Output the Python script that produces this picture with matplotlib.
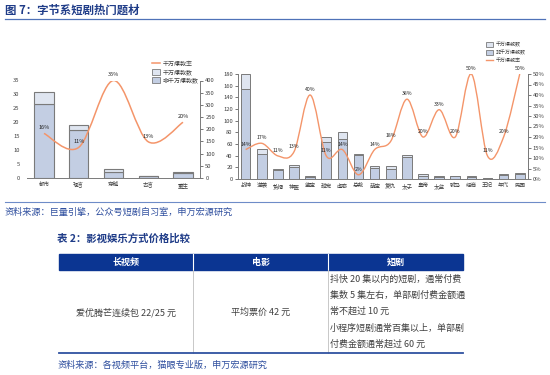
import numpy as np
import matplotlib
matplotlib.use('Agg')
import matplotlib.pyplot as plt
from matplotlib.path import Path
from matplotlib.patches import PathPatch, Patch, Rectangle
from matplotlib.lines import Line2D

plt.rcParams['font.family'] = ['Noto Sans CJK SC', 'DejaVu Sans']

# left chart data
cats1 = ['都市', '现言', '穿越', '古言', '重生']
non_hit1 = [305, 197, 25, 8, 19]
hit1 = [47, 19, 12, 2, 5]
rate1 = [16, 11, 35, 13, 20]

# right chart data
cats2 = ['战神', '逆袭', '赘婿', '神医', '鉴宝', '甜宠', '虐恋', '总裁', '萌宝',
         '复仇', '太子', '皇帝', '太监', '驸马', '经商', '王妃', '年代', '民国']
non_hit2 = [155, 43, 16, 21, 3, 64, 69, 42, 19, 18, 38, 5, 4, 5, 4, 2, 7, 8]
hit2 = [25, 9, 2, 3, 2, 8, 11, 1, 3, 4, 4, 3, 2, 1, 2, 0.5, 1.5, 2]
rate2 = [14, 17, 11, 13, 40, 11, 14, 2, 14, 18, 38, 20, 33, 20, 50, 11, 20, 50]

# table
tab_head = ['长视频', '电影', '短剧']
tab_col1 = '爱优腾芒连续包 22/25 元'
tab_col2 = '平均票价 42 元'
tab_col3 = ['抖快 20 集以内的短剧，通常付费',
            '集数 5 集左右，单部剧付费金额通',
            '常不超过 10 元',
            '小程序短剧通常百集以上，单部剧',
            '付费金额通常超过 60 元']

c_low = '#C3CEE3'
c_up = '#DFE5F0'
c_edge = '#7A7A7A'
c_line = '#F4956A'
c_blue = '#1F3C88'
c_src = '#2E4E9E'
W, H = 550, 375


def rect(x0, y0, x1, y1):
    return [x0 / W, 1 - y1 / H, (x1 - x0) / W, (y1 - y0) / H]


def smooth_path(xs, ys):
    pts = np.column_stack([xs, ys]).astype(float)
    ext = np.vstack([pts[0], pts, pts[-1]])
    verts = [pts[0]]
    codes = [Path.MOVETO]
    for i in range(len(pts) - 1):
        p0, p1, p2, p3 = ext[i], ext[i + 1], ext[i + 2], ext[i + 3]
        verts += [p1 + (p2 - p0) / 6, p2 - (p3 - p1) / 6, p2]
        codes += [Path.CURVE4] * 3
    return Path(verts, codes)


def style(ax):
    for s in ax.spines.values():
        s.set_color(c_edge)
        s.set_linewidth(0.7)
    ax.tick_params(labelsize=4.2, colors='#404040', length=2, width=0.5, pad=1.5)
    ax.tick_params(axis='x', length=0, pad=3, labelsize=4)


fig = plt.figure(figsize=(5.5, 3.75), dpi=100)

# ---- left chart ----
ax1 = fig.add_axes(rect(26.6, 80.5, 200.4, 178))
x1 = np.arange(len(cats1))
ax1.bar(x1, non_hit1, width=0.55, color=c_low, edgecolor=c_edge, lw=0.8)
ax1.bar(x1, hit1, bottom=non_hit1, width=0.55, color=c_up, edgecolor=c_edge, lw=0.8)
ax1.set_ylim(0, 400)
ax1.set_yticks(range(0, 401, 50))
ax1.set_xlim(-0.5, len(cats1) - 0.5)
ax1.set_xticks(x1)
ax1.set_xticklabels(cats1)

ax1l = ax1.twinx()
ax1.yaxis.tick_right()
ax1l.yaxis.tick_left()
style(ax1)
ax1.spines['top'].set_visible(False)
ax1.spines['left'].set_visible(False)
ax1.spines['right'].set_visible(True)
ax1l.set_ylim(0, 35)
ax1l.set_yticks(range(0, 36, 5))
for s in ax1l.spines.values():
    s.set_visible(False)
ax1l.tick_params(labelsize=4.2, colors='#404040', length=0, pad=5)
ax1l.add_patch(PathPatch(smooth_path(x1, rate1), fill=False, edgecolor=c_line, lw=1.1))
for i, v in enumerate(rate1):
    ax1l.annotate(f'{v}%', (i, v), xytext=(0, 4), textcoords='offset points',
                  ha='center', va='center', fontsize=4, color='#222222')

leg1 = [Line2D([], [], color=c_line, lw=1.1),
        Patch(facecolor=c_up, edgecolor=c_edge, lw=0.6),
        Patch(facecolor=c_low, edgecolor=c_edge, lw=0.6)]
ax1l.legend(leg1, ['千万爆款率', '千万爆款数', '非千万爆款数'], loc='upper left',
            bbox_to_anchor=(152 / W, 1 - 61 / H), bbox_transform=fig.transFigure,
            frameon=False, fontsize=4.3, borderpad=0, borderaxespad=0,
            handlelength=1.3, handleheight=1.1, handletextpad=0.5, labelspacing=0.35,
            labelcolor='#404040')

# ---- right chart ----
ax2 = fig.add_axes(rect(237.6, 74, 527.8, 179))
x2 = np.arange(len(cats2))
ax2.bar(x2, non_hit2, width=0.6, color=c_low, edgecolor=c_edge, lw=0.7)
ax2.bar(x2, hit2, bottom=non_hit2, width=0.6, color=c_up, edgecolor=c_edge, lw=0.7)
ax2.set_ylim(0, 180)
ax2.set_yticks(range(0, 181, 20))
ax2.set_xlim(-0.5, len(cats2) - 0.5)
ax2.set_xticks(x2)
ax2.set_xticklabels(cats2)
style(ax2)
ax2.spines['top'].set_visible(False)

ax2r = ax2.twinx()
ax2r.set_ylim(0, 50)
ax2r.set_yticks(range(0, 51, 5))
ax2r.set_yticklabels([f'{t}%' for t in range(0, 51, 5)])
style(ax2r)
ax2r.spines['top'].set_visible(False)
ax2r.spines['left'].set_visible(False)
ax2r.spines['bottom'].set_visible(False)
ax2r.add_patch(PathPatch(smooth_path(x2, rate2), fill=False, edgecolor=c_line, lw=1.0))
for i, v in enumerate(rate2):
    ax2r.annotate(f'{v}%', (i, v), xytext=(0, 4), textcoords='offset points',
                  ha='center', va='center', fontsize=3.7, color='#222222')

leg2 = [Patch(facecolor=c_up, edgecolor=c_edge, lw=0.6),
        Patch(facecolor=c_low, edgecolor=c_edge, lw=0.6),
        Line2D([], [], color=c_line, lw=1.0)]
ax2r.legend(leg2, ['千万爆款数', '非千万爆款数', '千万爆款率'], loc='upper left',
            bbox_to_anchor=(486 / W, 1 - 42 / H), bbox_transform=fig.transFigure,
            frameon=False, fontsize=3.6, borderpad=0, borderaxespad=0,
            handlelength=1.3, handleheight=1.1, handletextpad=0.6, labelspacing=0.55,
            labelcolor='#404040')

# ---- page elements ----
bg = fig.add_axes([0, 0, 1, 1], zorder=-1)
bg.set_xlim(0, W)
bg.set_ylim(H, 0)
bg.axis('off')

bg.text(5, 10, '图 7：字节系短剧热门题材', fontsize=8.2, weight='bold', color=c_blue, va='center')
bg.plot([5, 545], [19, 19], color='#4F72B8', lw=0.9)
bg.plot([5, 545], [202, 202], color='#6E8CC8', lw=0.8)
bg.text(5, 212.5, '资料来源：巨量引擎，公众号短剧自习室，申万宏源研究', fontsize=6.6,
        color=c_src, va='center')

bg.text(57, 238, '表 2：影视娱乐方式价格比较', fontsize=7.5, weight='bold', color=c_blue, va='center')
bg.add_patch(Rectangle((59, 253.5), 404, 16.5, color='#0B3592'))
col_edges = [59, 193.3, 328.3, 463]
for xe in col_edges[1:3]:
    bg.plot([xe, xe], [253.5, 270], color='white', lw=0.8)
    bg.plot([xe, xe], [270, 352.5], color='#C8C8C8', lw=0.7)
for j, t in enumerate(tab_head):
    bg.text((col_edges[j] + col_edges[j + 1]) / 2, 262, t, fontsize=6.5, weight='bold',
            color='white', ha='center', va='center')
bg.text((col_edges[0] + col_edges[1]) / 2, 312.3, tab_col1, fontsize=6.5, color='#404040',
        ha='center', va='center')
bg.text((col_edges[1] + col_edges[2]) / 2, 312.3, tab_col2, fontsize=6.5, color='#404040',
        ha='center', va='center')
for k, line in enumerate(tab_col3):
    bg.text(329.5, 279 + k * 16.3, line, fontsize=6.5, color='#404040', va='center')
bg.plot([59, 463], [352.8, 352.8], color='#2F52A0', lw=1.3)
bg.text(58, 365, '资料来源：各视频平台，猫眼专业版，申万宏源研究', fontsize=6.6,
        color=c_src, va='center')

fig.savefig('out.png', dpi=100)
